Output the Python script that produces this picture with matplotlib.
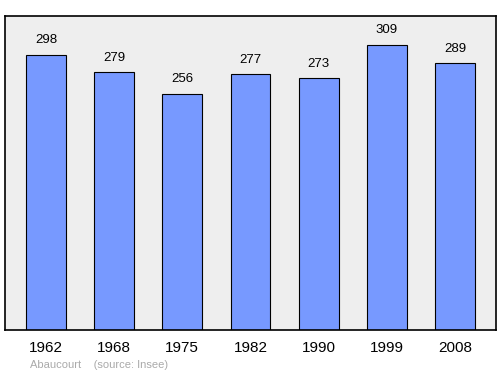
import matplotlib
matplotlib.use("Agg")
import matplotlib.pyplot as plt

years = ["1962", "1968", "1975", "1982", "1990", "1999", "2008"]
population = [298, 279, 256, 277, 273, 309, 289]

plt.rcParams["font.family"] = ["Liberation Sans", "DejaVu Sans"]

fig = plt.figure(figsize=(5.0, 3.74), dpi=100)
ax = fig.add_axes([5 / 500, 1 - 330 / 374, 491 / 500, 314 / 374])
ax.set_facecolor("#eeeeee")

x = range(len(years))
ax.bar(x, population, width=0.585, color="#7799ff", edgecolor="black", linewidth=0.8)
for i, v in zip(x, population):
    ax.text(i, v + 9, str(v), ha="center", va="bottom", fontsize=9.5)

ax.set_xlim(-0.6, 6.6)
ax.set_ylim(0, 340)
ax.set_yticks([])
ax.set_xticks(list(x))
ax.set_xticklabels(years, fontsize=11)
ax.tick_params(axis="x", length=0, pad=8)
for s in ax.spines.values():
    s.set_linewidth(1.2)

fig.text(30 / 500, 1 - 365 / 374, "Abaucourt    (source: Insee)", fontsize=8,
         color="#aaaaaa", va="center")

fig.savefig("out.png", dpi=100)
